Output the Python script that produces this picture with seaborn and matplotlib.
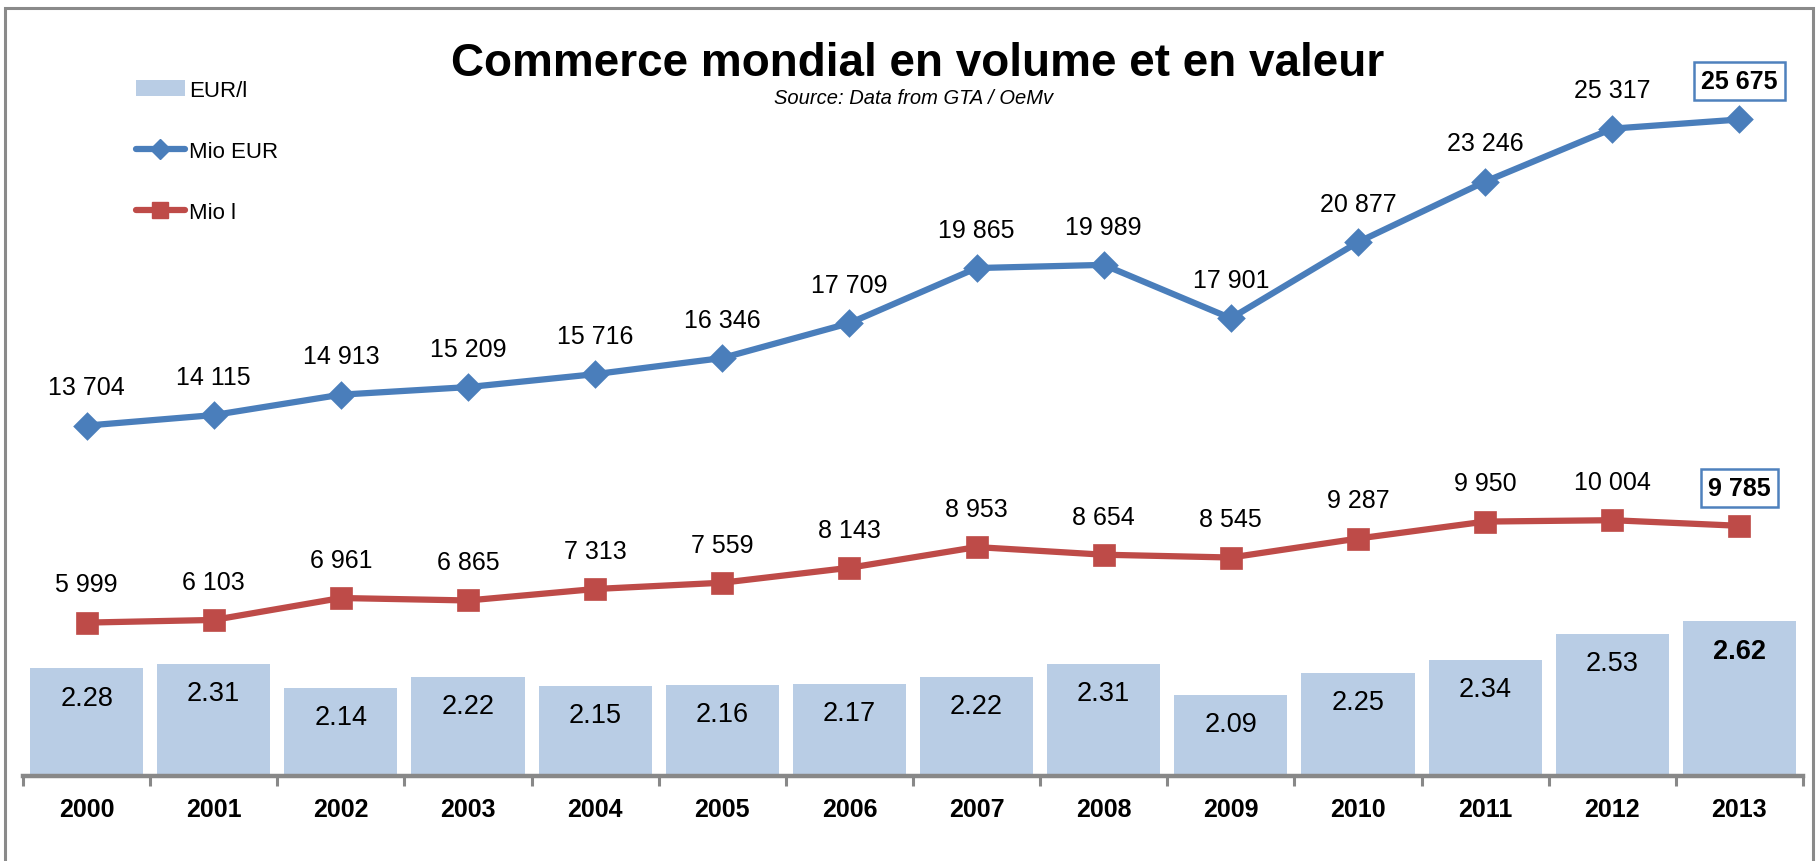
import numpy as np
import pandas as pd
import matplotlib
matplotlib.use("Agg")
import matplotlib.pyplot as plt
import seaborn as sns
from matplotlib.lines import Line2D
from matplotlib.patches import Patch, Rectangle

# ---- data ----
years = ["2000", "2001", "2002", "2003", "2004", "2005", "2006",
         "2007", "2008", "2009", "2010", "2011", "2012", "2013"]
mio_eur = [13704, 14115, 14913, 15209, 15716, 16346, 17709,
           19865, 19989, 17901, 20877, 23246, 25317, 25675]
mio_l = [5999, 6103, 6961, 6865, 7313, 7559, 8143,
         8953, 8654, 8545, 9287, 9950, 10004, 9785]
eur_per_l = [2.28, 2.31, 2.14, 2.22, 2.15, 2.16, 2.17,
             2.22, 2.31, 2.09, 2.25, 2.34, 2.53, 2.62]
legend_labels = ["EUR/l", "Mio EUR", "Mio l"]
title = "Commerce mondial en volume et en valeur"
subtitle = "Source: Data from GTA / OeMv"

df = pd.DataFrame({"year": years, "mio_eur": mio_eur,
                   "mio_l": mio_l, "eur_l": eur_per_l})

BAR = "#B9CDE5"
BLUE = "#4A7EBB"
RED = "#BE4B48"
GRAY = "#888888"

sns.set_theme(style="white")
plt.rcParams["font.family"] = ["Liberation Sans", "DejaVu Sans"]
plt.rcParams["text.color"] = "black"
plt.rcParams["xtick.color"] = "black"

W, H = 1818, 862
fig = plt.figure(figsize=(W / 100, H / 100), dpi=100)
fig.patch.set_facecolor("white")

left, right, top, base = 23, 1803, 40, 777
ax = fig.add_axes([left / W, (H - base) / H, (right - left) / W, (base - top) / H])
ax.set_facecolor("none")

sns.barplot(data=df, x="year", y="eur_l", ax=ax, color=BAR, width=0.89,
            saturation=1, edgecolor="none", errorbar=None)
ax.set_ylim(1.5, 1.5 + (base - top) / 138.0)

ax2 = ax.twinx()
sns.pointplot(data=df, x="year", y="mio_eur", ax=ax2, color=BLUE, markers="D",
              markersize=11, linewidth=4.5, errorbar=None)
sns.pointplot(data=df, x="year", y="mio_l", ax=ax2, color=RED, markers="s",
              markersize=12.5, linewidth=4.5, errorbar=None)
ax2.set_ylim(0, (base - top) / 0.02557)
ax.set_xlim(-0.5, len(years) - 0.5)

# labels on lines
n = len(years)
for i, (v1, v2) in enumerate(zip(mio_eur, mio_l)):
    for v in (v1, v2):
        txt = f"{v:,}".replace(",", " ")
        if i == n - 1:
            ax2.annotate(txt, (i, v), xytext=(0, 27.5), textcoords="offset points",
                         ha="center", va="center", fontsize=18, fontweight="bold",
                         bbox=dict(boxstyle="square,pad=0.28", fc="white",
                                   ec="#4F81BD", lw=1.8))
        else:
            ax2.annotate(txt, (i, v), xytext=(0, 27.5), textcoords="offset points",
                         ha="center", va="center", fontsize=18)

# labels in bars
for i, v in enumerate(eur_per_l):
    ax.annotate(f"{v:.2f}", (i, v), xytext=(0, -21), textcoords="offset points",
                ha="center", va="center", fontsize=19.5,
                fontweight="bold" if i == n - 1 else "normal")

# axes styling
for a in (ax, ax2):
    for s in ("left", "right", "top"):
        a.spines[s].set_visible(False)
    a.set_ylabel("")
    a.set_yticks([])
ax2.spines["bottom"].set_visible(False)
ax.set_xlabel("")
ax2.set_xlabel("")
ax.spines["bottom"].set_color(GRAY)
ax.spines["bottom"].set_linewidth(3.2)
ax.set_xticks(np.arange(-0.5, n, 1.0), minor=True)
ax.tick_params(axis="x", which="minor", length=7, width=2.2, color=GRAY, direction="out", bottom=True)
ax.tick_params(axis="x", which="major", length=0, pad=15, labelsize=18, labelcolor="black")
for t in ax.get_xticklabels():
    t.set_fontweight("bold")
ax2.tick_params(axis="x", which="both", length=0, labelbottom=False)

# title
fig.text(918 / W, 1 - 64 / H, title, ha="center", va="center",
         fontsize=33, fontweight="bold")
fig.text(914 / W, 1 - 99 / H, subtitle, ha="center", va="center",
         fontsize=14.5, fontstyle="italic")

# legend
handles = [Patch(facecolor=BAR, edgecolor="none"),
           Line2D([], [], color=BLUE, lw=4.5, marker="D", ms=10),
           Line2D([], [], color=RED, lw=4.5, marker="s", ms=11)]
fig.legend(handles, legend_labels, loc="upper left",
           bbox_to_anchor=(136 / W, 1 - 81 / H), frameon=False, fontsize=16,
           labelspacing=1.8, handlelength=2.2, handletextpad=0.2,
           borderaxespad=0, borderpad=0)

# outer frame
fig.add_artist(Rectangle((5 / W, -0.05), (1813 - 5) / W, (H - 9) / H + 0.05,
                         transform=fig.transFigure, fill=False,
                         edgecolor="#8a8a8a", lw=2.2))

fig.savefig("out.png", dpi=100)
